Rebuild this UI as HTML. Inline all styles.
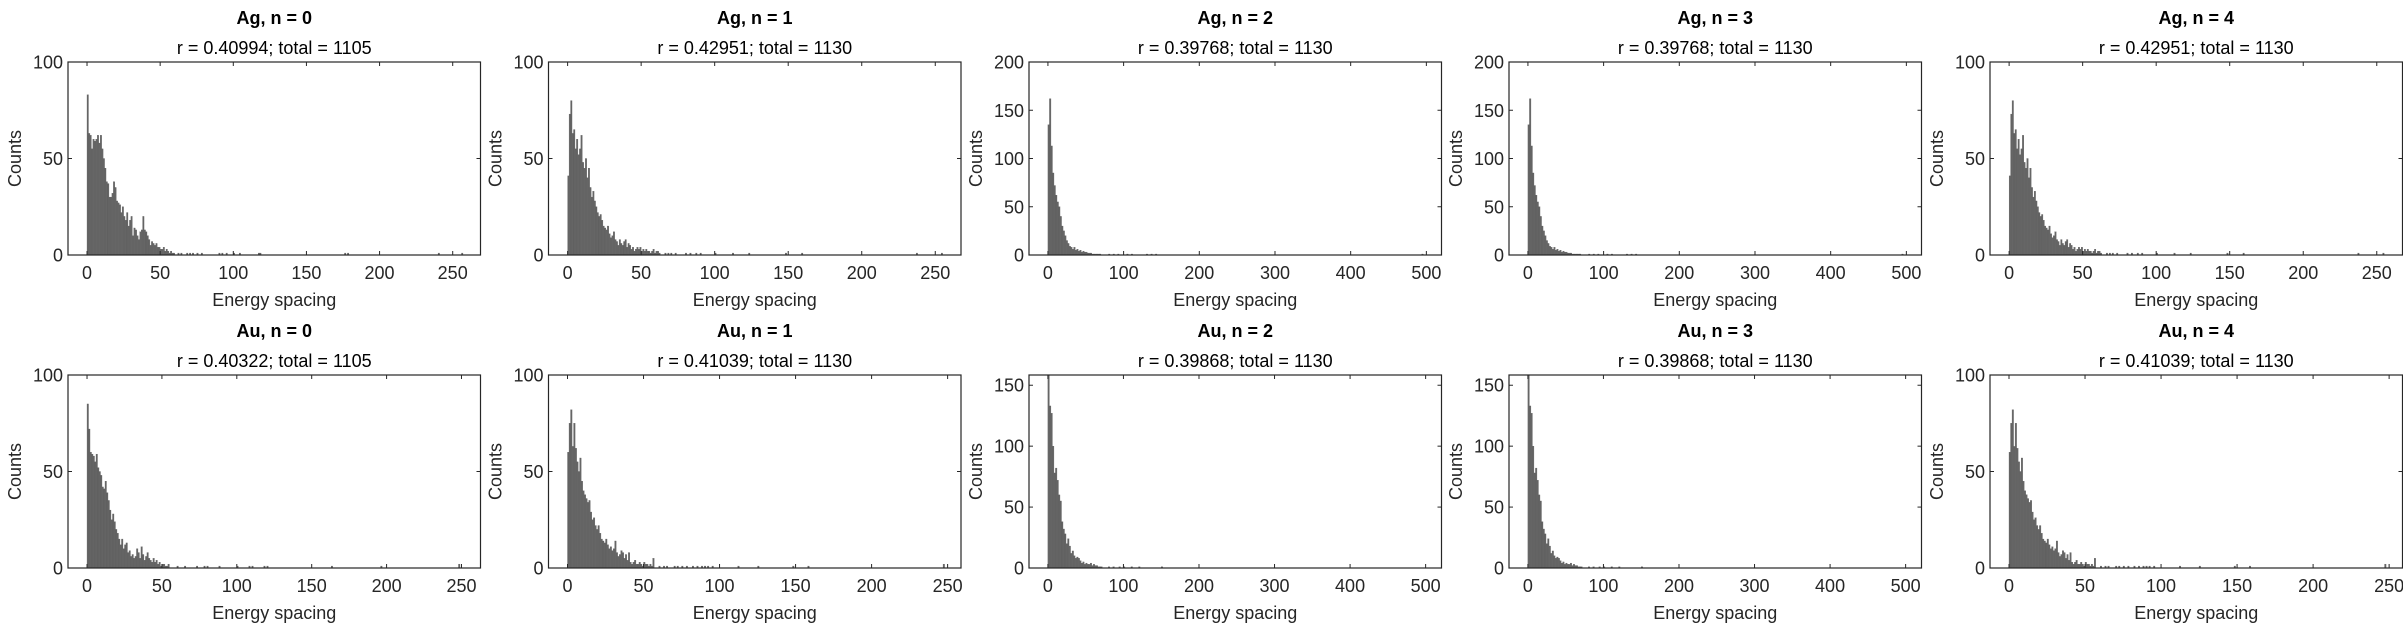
<!DOCTYPE html>
<html><head><meta charset="utf-8"><style>
html,body{margin:0;padding:0;background:#fff;}
svg{display:block;}
text{font-family:"Liberation Sans",Arial,sans-serif;}
</style></head><body>
<svg id="fig" width="2403" height="625" viewBox="0 0 2403 625" xmlns="http://www.w3.org/2000/svg"></svg>
<script>
// ---- data (counts per bin, starting at 0) ----
const countsAgN0 = [83,63,62,55,60,59,60,62,58,62,55,50,45,38,37,30,30,32,38,35,28,27,26,22,25,20,18,22,15,18,20,10,14,13,10,8,12,13,20,13,12,10,8,5,7,6,5,6,4,4,3,3,4,2,3,2,1,2,1,1];
const tailAgN0 = [62,64,68,70,72,75,78,90,92,95,100,104,117,118,176,178,240,256];
const countsAgN1 = [41,73,80,63,65,55,60,52,55,62,48,45,50,40,45,35,30,33,28,25,22,20,21,18,15,14,13,15,11,9,10,12,8,7,5,8,6,5,7,8,4,6,5,3,4,2,3,4,3,4,2,3,2,3,2,2,1,2,3,1,2,2,1];
const tailAgN1 = [66,68,70,73,80,83,87,90,100,112,123,148,159,237,254];
const countsAgN2 = [135,162,113,85,72,62,55,50,40,30,25,20,15,12,9,8,6,8,5,6,4,5,3,4,3,3,2,2,2,1,1,1,1,1,1];
const tailAgN2 = [80,86,92,105,110,130,136,142,495];
const countsAgN3 = [135,162,113,85,72,62,55,50,40,30,25,20,15,12,9,8,6,8,5,6,4,5,3,4,3,3,2,2,2,1,1,1,1,1,1];
const tailAgN3 = [80,86,92,105,110,130,136,142,495];
const countsAgN4 = [41,73,80,63,65,55,60,52,55,62,48,45,50,40,45,35,30,33,28,25,22,20,21,18,15,14,13,15,11,9,10,12,8,7,5,8,6,5,7,8,4,6,5,3,4,2,3,4,3,4,2,3,2,3,2,2,1,2,3,1,2,2,1];
const tailAgN4 = [66,68,70,73,80,83,87,90,100,112,123,148,159,237,254];
const countsAuN0 = [85,72,60,59,58,55,59,52,50,48,42,41,45,39,35,30,25,28,24,20,18,15,12,15,10,12,13,8,9,6,7,5,6,10,8,5,11,7,4,6,8,5,4,3,5,3,4,2,3,1,2,2,1,1,2];
const tailAuN0 = [60,65,73,78,80,88,100,108,110,118,120,163,196,248,248];
const countsAuN1 = [60,75,82,63,75,62,55,50,57,45,40,38,36,34,35,29,25,26,22,20,22,18,15,14,13,15,12,10,11,9,10,14,8,6,7,9,8,5,7,4,8,3,2,3,4,2,2,3,2,1,3,2,2,1,2,1,5];
const tailAuN1 = [60,63,65,70,72,75,78,82,85,88,90,92,95,112,125,148,158,247,247];
const countsAuN2 = [158,133,127,100,78,82,72,60,55,38,32,28,20,24,18,12,14,10,8,9,8,6,4,5,3,4,3,3,4,2,3,2,2,1,1,1];
const tailAuN2 = [80,86,95,100,110,120,150];
const countsAuN3 = [158,133,127,100,78,82,72,60,55,38,32,28,20,24,18,12,14,10,8,9,8,6,4,5,3,4,3,3,4,2,3,2,2,1,1,1];
const tailAuN3 = [80,86,95,100,110,120,150];
const countsAuN4 = [60,75,82,63,75,62,55,50,57,45,40,38,36,34,35,29,25,26,22,20,22,18,15,14,13,15,12,10,11,9,10,14,8,6,7,9,8,5,7,4,8,3,2,3,4,2,2,3,2,1,3,2,2,1,2,1,5];
const tailAuN4 = [60,63,65,70,72,75,78,82,85,88,90,92,95,112,125,148,158,247,247];

const titles = ["Ag, n = 0","Ag, n = 1","Ag, n = 2","Ag, n = 3","Ag, n = 4","Au, n = 0","Au, n = 1","Au, n = 2","Au, n = 3","Au, n = 4"];
const subtitles = ["r = 0.40994; total = 1105","r = 0.42951; total = 1130","r = 0.39768; total = 1130","r = 0.39768; total = 1130","r = 0.42951; total = 1130",
                   "r = 0.40322; total = 1105","r = 0.41039; total = 1130","r = 0.39868; total = 1130","r = 0.39868; total = 1130","r = 0.41039; total = 1130"];
const xTicks250 = [0,50,100,150,200,250];
const xTicks500 = [0,100,200,300,400,500];
const yTicks100 = [0,50,100];
const yTicks200 = [0,50,100,150,200];
const yTicks150 = [0,50,100,150];

// ---- layout ----
const NS = "http://www.w3.org/2000/svg";
const svg = document.getElementById('fig');
const lefts = [68,548.5,1029,1509,1990];
const tops = [62,375];
const AW = 412.5, AH = 193;
const panels = [
 {c:countsAgN0,t:tailAgN0,bw:1,xl:[-13,269],yl:[0,100],xt:xTicks250,yt:yTicks100},
 {c:countsAgN1,t:tailAgN1,bw:1,xl:[-13,267.5],yl:[0,100],xt:xTicks250,yt:yTicks100},
 {c:countsAgN2,t:tailAgN2,bw:2,xl:[-25,520],yl:[0,200],xt:xTicks500,yt:yTicks200},
 {c:countsAgN3,t:tailAgN3,bw:2,xl:[-25,520],yl:[0,200],xt:xTicks500,yt:yTicks200},
 {c:countsAgN4,t:tailAgN4,bw:1,xl:[-13,267.5],yl:[0,100],xt:xTicks250,yt:yTicks100},
 {c:countsAuN0,t:tailAuN0,bw:1,xl:[-12.7,262.7],yl:[0,100],xt:xTicks250,yt:yTicks100},
 {c:countsAuN1,t:tailAuN1,bw:1,xl:[-12.5,258.8],yl:[0,100],xt:xTicks250,yt:yTicks100},
 {c:countsAuN2,t:tailAuN2,bw:2,xl:[-25,521],yl:[0,158.4],xt:xTicks500,yt:yTicks150},
 {c:countsAuN3,t:tailAuN3,bw:2,xl:[-25,521],yl:[0,158.4],xt:xTicks500,yt:yTicks150},
 {c:countsAuN4,t:tailAuN4,bw:1,xl:[-12.5,258.8],yl:[0,100],xt:xTicks250,yt:yTicks100}
];
function mk(tag, attrs, parent){const e=document.createElementNS(NS,tag);for(const k in attrs)e.setAttribute(k,attrs[k]);(parent||svg).appendChild(e);return e;}

panels.forEach((p,i)=>{
  const L = lefts[i%5], T = tops[Math.floor(i/5)];
  const g = mk('g',{});
  
  
  const X = v => L + (v - p.xl[0]) / (p.xl[1]-p.xl[0]) * AW;
  const Y = v => T + AH - (v - p.yl[0]) / (p.yl[1]-p.yl[0]) * AH;
  const bins = p.c.slice();
  p.t.forEach(v=>{const k=Math.floor(v/p.bw); while(bins.length<=k) bins.push(0); bins[k]+=1;});
  bins.forEach((c,k)=>{
    if(!c) return;
    const x0=X(k*p.bw), x1=X((k+1)*p.bw);
    const r = mk('rect',{x:x0,y:Y(c),width:Math.max(x1-x0,0.8),height:Y(0)-Y(c),fill:'#666666',stroke:'#5a5a5a','stroke-width':0.3},g);
    
    
  });
  p.xt.forEach(v=>{
    const x=X(v);
    mk('line',{x1:x,x2:x,y1:T+AH,y2:T+AH-4,stroke:'#262626','stroke-width':1},g);
    mk('line',{x1:x,x2:x,y1:T,y2:T+4,stroke:'#262626','stroke-width':1},g);
    if(x<=2403){
      const t=mk('text',{x:x,y:T+AH+24,'text-anchor':'middle','font-size':18,fill:'#262626'},g);
      t.textContent=v;
      
      
    }
  });
  p.yt.forEach(v=>{
    const y=Y(v);
    mk('line',{x1:L,x2:L+4,y1:y,y2:y,stroke:'#262626','stroke-width':1},g);
    mk('line',{x1:L+AW,x2:L+AW-4,y1:y,y2:y,stroke:'#262626','stroke-width':1},g);
    const t=mk('text',{x:L-5,y:y+6.5,'text-anchor':'end','font-size':18,fill:'#262626'},g);
    t.textContent=v;
    
    
  });
  const b=mk('rect',{x:L,y:T,width:AW,height:AH,fill:'none',stroke:'#262626','stroke-width':1.2},g);
  
  
  const cx = L + AW/2;
  const t1=mk('text',{x:cx,y:T-38,'text-anchor':'middle','font-size':18,'font-weight':'bold',fill:'#000'},g);
  t1.textContent=titles[i];
  
  
  const t2=mk('text',{x:cx,y:T-8,'text-anchor':'middle','font-size':18,fill:'#000'},g);
  t2.textContent=subtitles[i];
  
  
  const xl=mk('text',{x:cx,y:T+AH+51,'text-anchor':'middle','font-size':18,fill:'#262626'},g);
  xl.textContent='Energy spacing';
  
  
  const yx = L-47, yy = T+AH/2;
  const yl=mk('text',{x:yx,y:yy,'text-anchor':'middle','font-size':18,fill:'#262626',transform:`rotate(-90 ${yx} ${yy})`},g);
  yl.textContent='Counts';
  
  
});
</script>
</body></html>
